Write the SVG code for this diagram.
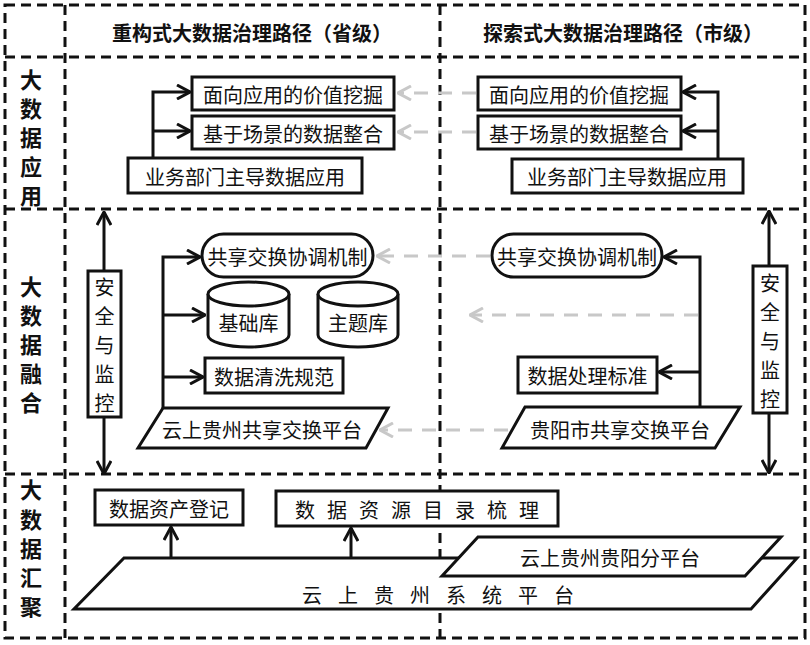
<svg xmlns="http://www.w3.org/2000/svg" width="810" height="645" viewBox="0 0 810 645">
<style>
.grid{fill:none;stroke:#111;stroke-width:3;stroke-dasharray:10 6}
.box{fill:#fff;stroke:#111;stroke-width:3}
.t{font-family:"Noto Sans CJK SC","Noto Sans",sans-serif;font-size:20px;fill:#111;text-anchor:middle;dominant-baseline:central}
.h{font-weight:bold}
.lbl{font-weight:bold;font-size:22px}
.c{fill:none;stroke:#111;stroke-width:3}
.g{fill:none;stroke:#c8c8c8;stroke-width:3;stroke-dasharray:14 10}
</style>
<defs>
<marker id="ah" viewBox="0 0 16 16" refX="15" refY="8" markerWidth="16" markerHeight="16" markerUnits="userSpaceOnUse" orient="auto">
<path d="M2,1 L15,8 L2,15" fill="none" stroke="#111" stroke-width="3"/>
</marker>
<marker id="ag" viewBox="0 0 16 16" refX="15" refY="8" markerWidth="16" markerHeight="16" markerUnits="userSpaceOnUse" orient="auto">
<path d="M2,1 L15,8 L2,15" fill="none" stroke="#c8c8c8" stroke-width="3"/>
</marker>
</defs>
<rect width="810" height="645" fill="#fff"/>
<g id="grid">
<rect class="grid" x="5" y="5" width="800" height="633"/>
<line class="grid" x1="5" y1="57" x2="805" y2="57"/>
<line class="grid" x1="5" y1="209" x2="805" y2="209"/>
<line class="grid" x1="5" y1="474" x2="805" y2="474"/>
<line class="grid" x1="65" y1="5" x2="65" y2="638"/>
<line class="grid" x1="440" y1="5" x2="440" y2="638"/>
</g>
<g id="headers">
<text class="t h" x="252" y="32">重构式大数据治理路径（省级）</text>
<text class="t h" x="623" y="32">探索式大数据治理路径（市级）</text>
</g>
<g id="row-labels">
<text class="t lbl" x="31"><tspan x="31" y="78">大</tspan><tspan x="31" y="107">数</tspan><tspan x="31" y="136">据</tspan><tspan x="31" y="165">应</tspan><tspan x="31" y="194">用</tspan></text>
<text class="t lbl" x="31"><tspan x="31" y="285">大</tspan><tspan x="31" y="314">数</tspan><tspan x="31" y="343">据</tspan><tspan x="31" y="372">融</tspan><tspan x="31" y="401">合</tspan></text>
<text class="t lbl" x="31"><tspan x="31" y="488">大</tspan><tspan x="31" y="518">数</tspan><tspan x="31" y="547">据</tspan><tspan x="31" y="576">汇</tspan><tspan x="31" y="605">聚</tspan></text>
</g>
<g id="connectors">
<path class="g" d="M476,93 H398" marker-end="url(#ag)"/>
<path class="g" d="M476,132 H398" marker-end="url(#ag)"/>
<path class="g" d="M490,256 H377" marker-end="url(#ag)"/>
<path class="g" d="M698,315 H470" marker-end="url(#ag)"/>
<path class="g" d="M508,430 H380" marker-end="url(#ag)"/>
<path class="c" d="M153,158 V92 H190" marker-end="url(#ah)"/>
<path class="c" d="M153,131 H190" marker-end="url(#ah)"/>
<path class="c" d="M718,159 V92 H683" marker-end="url(#ah)"/>
<path class="c" d="M718,131 H683" marker-end="url(#ah)"/>
<path class="c" d="M104,271 V212" marker-end="url(#ah)"/>
<path class="c" d="M104,417 V474" marker-end="url(#ah)"/>
<path class="c" d="M769,266 V211" marker-end="url(#ah)"/>
<path class="c" d="M769,413 V473" marker-end="url(#ah)"/>
<path class="c" d="M163,408 V257 H200" marker-end="url(#ah)"/>
<path class="c" d="M163,315 H205" marker-end="url(#ah)"/>
<path class="c" d="M163,377 H203" marker-end="url(#ah)"/>
<path class="c" d="M700,407 V257 H664" marker-end="url(#ah)"/>
<path class="c" d="M700,372 H659" stroke-width="2.5" marker-end="url(#ah)"/>
<path class="c" d="M171,557 V527" marker-end="url(#ah)"/>
<path class="c" d="M351,557 V528" marker-end="url(#ah)"/>
</g>
<g id="n-mining-l"><rect class="box" x="192" y="77" width="202" height="33"/><text class="t" x="293" y="94">面向应用的价值挖掘</text></g>
<g id="n-integ-l"><rect class="box" x="192" y="116" width="202" height="33"/><text class="t" x="293" y="133">基于场景的数据整合</text></g>
<g id="n-biz-l"><rect class="box" x="128" y="158" width="234" height="35"/><text class="t" x="245" y="176">业务部门主导数据应用</text></g>
<g id="n-mining-r"><rect class="box" x="478" y="77" width="203" height="33"/><text class="t" x="579" y="94">面向应用的价值挖掘</text></g>
<g id="n-integ-r"><rect class="box" x="478" y="116" width="203" height="33"/><text class="t" x="579" y="133">基于场景的数据整合</text></g>
<g id="n-biz-r"><rect class="box" x="512" y="159" width="231" height="34"/><text class="t" x="627" y="176">业务部门主导数据应用</text></g>
<g id="n-sec-l"><rect class="box" x="88" y="271" width="33" height="146"/><text class="t"><tspan x="104.5" y="286">安</tspan><tspan x="104.5" y="315">全</tspan><tspan x="104.5" y="344">与</tspan><tspan x="104.5" y="373">监</tspan><tspan x="104.5" y="402">控</tspan></text></g>
<g id="n-sec-r"><rect class="box" x="753" y="266" width="34" height="147"/><text class="t"><tspan x="770" y="282">安</tspan><tspan x="770" y="311">全</tspan><tspan x="770" y="340">与</tspan><tspan x="770" y="369">监</tspan><tspan x="770" y="398">控</tspan></text></g>
<g id="n-coord-l"><rect class="box" x="202" y="234" width="171" height="43" rx="21.5"/><text class="t" x="287.5" y="256">共享交换协调机制</text></g>
<g id="n-basedb"><path class="box" d="M208,294 V335 A40.5,12 0 0 0 289,335 V294"/><ellipse class="box" cx="248.5" cy="294" rx="40.5" ry="12"/><text class="t" x="248.5" y="322">基础库</text></g>
<g id="n-topicdb"><path class="box" d="M318,294 V335 A40,12 0 0 0 398,335 V294"/><ellipse class="box" cx="358" cy="294" rx="40" ry="12"/><text class="t" x="358" y="322">主题库</text></g>
<g id="n-clean"><rect class="box" x="205" y="358" width="138" height="35"/><text class="t" x="274" y="376">数据清洗规范</text></g>
<g id="n-exch-l"><polygon class="box" points="163,408 388,408 366,448 138,448"/><text class="t" x="262" y="429">云上贵州共享交换平台</text></g>
<g id="n-coord-r"><rect class="box" x="492" y="234" width="170" height="43" rx="21.5"/><text class="t" x="577" y="256">共享交换协调机制</text></g>
<g id="n-std"><rect class="box" x="518" y="357" width="139" height="36"/><text class="t" x="587.5" y="375">数据处理标准</text></g>
<g id="n-exch-r"><polygon class="box" points="525,407 740,407 715,448 502,448"/><text class="t" x="620" y="429">贵阳市共享交换平台</text></g>
<g id="n-asset"><rect class="box" x="95" y="490" width="148" height="35"/><text class="t" x="169" y="508">数据资产登记</text></g>
<g id="n-catalog"><rect class="box" x="276" y="491" width="282" height="35"/><text class="t" x="305 337 369 401 433 465 497 529" y="509">数据资源目录梳理</text></g>
<g id="n-cloud"><polygon class="box" points="124,558 797,558 751,609 74,609"/><text class="t" x="312 348 384 420 456 492 528 564" y="594">云上贵州系统平台</text></g>
<g id="n-gy"><polygon class="box" points="478,537 781,537 745,576 442,576"/><text class="t" x="610" y="557">云上贵州贵阳分平台</text></g>
</svg>
